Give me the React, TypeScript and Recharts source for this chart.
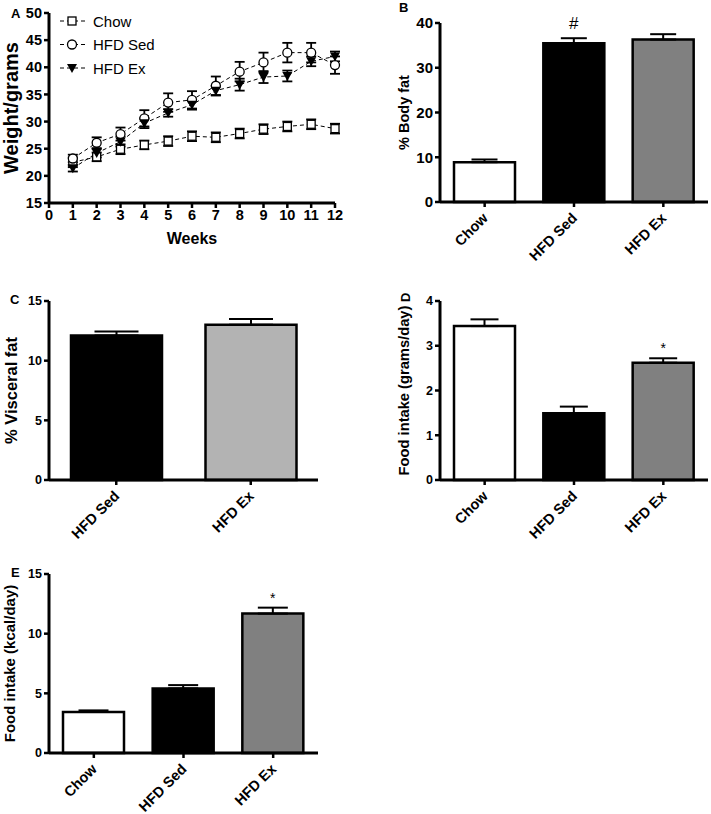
import React from "react";
import {
  LineChart,
  Line,
  BarChart,
  Bar,
  Cell,
  XAxis,
  YAxis,
  ErrorBar,
  Legend,
  LabelList,
} from "recharts";

// Panel A: body weight by week
const weeks = [1, 2, 3, 4, 5, 6, 7, 8, 9, 10, 11, 12];
const weekTicks = [0, 1, 2, 3, 4, 5, 6, 7, 8, 9, 10, 11, 12];
const weightTicks = [15, 20, 25, 30, 35, 40, 45, 50];
const chowWeight = [22.5, 23.5, 24.9, 25.7, 26.4, 27.3, 27.1, 27.8, 28.6, 29.1, 29.5, 28.7];
const chowWeightErr = [0.9, 0.8, 0.9, 0.8, 0.9, 0.9, 0.9, 0.9, 0.9, 0.9, 0.9, 0.9];
const sedWeight = [23.2, 26.1, 27.7, 30.6, 33.5, 34.0, 36.6, 39.2, 40.9, 42.7, 42.7, 40.4];
const sedWeightErr = [0.7, 1.0, 1.2, 1.5, 1.7, 1.6, 1.7, 1.8, 1.8, 1.8, 1.8, 1.6];
const exWeight = [21.4, 24.2, 26.3, 29.7, 31.6, 33.1, 35.7, 36.8, 38.2, 38.4, 41.1, 42.0];
const exWeightErr = [0.6, 0.8, 0.9, 0.9, 0.7, 0.9, 0.9, 1.1, 1.1, 1.0, 0.9, 0.9];

const seriesKeys = ["chow", "sed", "ex"];
const seriesNames = ["Chow", "HFD Sed", "HFD Ex"];

// Bar panels
const groups = ["Chow", "HFD Sed", "HFD Ex"];
const hfdGroups = ["HFD Sed", "HFD Ex"];

const bodyFat = [8.9, 35.5, 36.3];
const bodyFatErr = [0.6, 1.1, 1.2];
const bodyFatMarks = ["", "#", ""];
const bodyFatTicks = [0, 10, 20, 30, 40];

const visceralFat = [12.1, 13.0];
const visceralFatErr = [0.35, 0.5];
const visceralMarks = ["", ""];
const visceralTicks = [0, 5, 10, 15];

const foodGrams = [3.44, 1.49, 2.62];
const foodGramsErr = [0.15, 0.15, 0.1];
const foodGramsMarks = ["", "", "*"];
const foodGramsTicks = [0, 1, 2, 3, 4];

const foodKcal = [3.44, 5.41, 11.68];
const foodKcalErr = [0.13, 0.28, 0.5];
const foodKcalMarks = ["", "", "*"];
const foodKcalTicks = [0, 5, 10, 15];

const FILLS3 = ["#ffffff", "#000000", "#808080"];
const FILLS2 = ["#000000", "#b3b3b3"];

const weightTable = weeks.map((w, i) => ({
  week: w,
  chow: chowWeight[i],
  chowErr: chowWeightErr[i],
  sed: sedWeight[i],
  sedErr: sedWeightErr[i],
  ex: exWeight[i],
  exErr: exWeightErr[i],
}));

const makeTable = (cats: string[], vals: number[], errs: number[], marks: string[]) =>
  cats.map((c, i) => ({ name: c, value: vals[i], err: [0, errs[i]], mark: marks[i] }));

const FONT = "'Liberation Sans', Arial, sans-serif";

function Marker({ kind, cx, cy }: { kind: string; cx: number; cy: number }) {
  if (kind === "square")
    return <rect x={cx - 4} y={cy - 4} width={8} height={8} fill="#fff" stroke="#000" strokeWidth={1.3} />;
  if (kind === "circle")
    return <circle cx={cx} cy={cy} r={4.5} fill="#fff" stroke="#000" strokeWidth={1.3} />;
  return <path d={`M${cx - 5},${cy - 4}L${cx + 5},${cy - 4}L${cx},${cy + 5}Z`} fill="#000" />;
}

const markerOf: Record<string, string> = { chow: "square", sed: "circle", ex: "triangle" };

function WeightLegend(props: any) {
  const items = [...(props.payload || [])].sort(
    (a: any, b: any) => seriesKeys.indexOf(a.dataKey) - seriesKeys.indexOf(b.dataKey)
  );
  return (
    <svg width={130} height={72}>
      {items.map((it: any, i: number) => {
        const cy = 13 + i * 23.5;
        return (
          <g key={it.value}>
            <line x1={2} x2={28} y1={cy} y2={cy} stroke="#000" strokeWidth={1} strokeDasharray="4 3" />
            <Marker kind={markerOf[it.dataKey]} cx={14} cy={cy} />
            <text x={35} y={cy + 5.5} fontSize={15} fill="#000">
              {it.value}
            </text>
          </g>
        );
      })}
    </svg>
  );
}

function SlantTick(props: any) {
  const { x, y, payload } = props;
  const tx = x + 4;
  const ty = y + 10;
  return (
    <text
      x={tx}
      y={ty}
      textAnchor="end"
      transform={`rotate(-45 ${tx} ${ty})`}
      fontSize={14.5}
      fontWeight="bold"
      fill="#000"
    >
      {payload.value}
    </text>
  );
}

const axisLine = { stroke: "#000", strokeWidth: 3 };
const tickLine = { stroke: "#000", strokeWidth: 2.5 };

function WeightPanel() {
  return (
    <LineChart width={360} height={260} data={weightTable} margin={{ top: 13, right: 25, bottom: 0, left: 0 }}>
      <XAxis
        dataKey="week"
        type="number"
        domain={[0, 12]}
        ticks={weekTicks}
        interval={0}
        axisLine={axisLine}
        tickLine={tickLine}
        tickSize={5}
        height={57}
        tick={{ fill: "#000", fontSize: 14.5, fontWeight: "bold" }}
        label={{ value: "Weeks", position: "insideBottom", offset: 16, style: { fill: "#000", fontSize: 16, fontWeight: "bold" } }}
      />
      <YAxis
        type="number"
        domain={[15, 50]}
        ticks={weightTicks}
        interval={0}
        width={49}
        axisLine={axisLine}
        tickLine={tickLine}
        tickSize={5}
        tick={{ fill: "#000", fontSize: 14.5, fontWeight: "bold" }}
        label={{
          value: "Weight/grams",
          angle: -90,
          position: "insideLeft",
          offset: 10.5,
          style: { textAnchor: "middle", fill: "#000", fontSize: 20, fontWeight: "bold" },
        }}
      />
      <Legend
        verticalAlign="middle"
        align="center"
        layout="horizontal"
        content={WeightLegend}
        wrapperStyle={{ left: 58, top: 8, width: 130, height: 72 }}
      />
      {seriesKeys.map((k, i) => (
        <Line
          key={k}
          dataKey={k}
          name={seriesNames[i]}
          stroke="#000"
          strokeWidth={1}
          strokeDasharray="4 3"
          isAnimationActive={false}
          dot={(p: any) => <Marker key={`${k}-${p.index}`} kind={markerOf[k]} cx={p.cx} cy={p.cy} />}
          activeDot={false}
        >
          <ErrorBar dataKey={`${k}Err`} width={5} strokeWidth={1.8} stroke="#000" direction="y" />
        </Line>
      ))}
    </LineChart>
  );
}

type BarPanelProps = {
  width: number;
  height: number;
  top: number;
  right: number;
  yWidth: number;
  xHeight: number;
  data: any[];
  fills: string[];
  barSize: number;
  capWidth: number;
  ticks: number[];
  tickFont: number;
  yLabel: string;
  yLabelX: number;
  yLabelFont: number;
  markOffset: number;
  markFont: number;
};

function BarPanel(p: BarPanelProps) {
  const max = p.ticks[p.ticks.length - 1];
  return (
    <BarChart width={p.width} height={p.height} data={p.data} margin={{ top: p.top, right: p.right, bottom: 0, left: 0 }}>
      <XAxis
        dataKey="name"
        interval={0}
        axisLine={axisLine}
        tickLine={tickLine}
        tickSize={5}
        height={p.xHeight}
        tick={<SlantTick />}
      />
      <YAxis
        type="number"
        domain={[0, max]}
        ticks={p.ticks}
        interval={0}
        width={p.yWidth}
        axisLine={axisLine}
        tickLine={tickLine}
        tickSize={5}
        tick={{ fill: "#000", fontSize: p.tickFont, fontWeight: "bold" }}
        label={{
          value: p.yLabel,
          angle: -90,
          position: "insideLeft",
          offset: p.yLabelX,
          style: { textAnchor: "middle", fill: "#000", fontSize: p.yLabelFont, fontWeight: "bold" },
        }}
      />
      <Bar dataKey="value" barSize={p.barSize} stroke="#000" strokeWidth={2.5} isAnimationActive={false}>
        {p.data.map((d, i) => (
          <Cell key={d.name} fill={p.fills[i]} />
        ))}
        <ErrorBar dataKey="err" width={p.capWidth} strokeWidth={2} stroke="#000" direction="y" />
        <LabelList dataKey="mark" position="top" offset={p.markOffset} style={{ fill: "#000", fontSize: p.markFont }} />
      </Bar>
    </BarChart>
  );
}

const abs = (left: number, top: number): React.CSSProperties => ({ position: "absolute", left, top });

export default function App() {
  return (
    <div style={{ position: "absolute", left: 0, top: 0, width: 711, height: 814, background: "#fff", fontFamily: FONT }}>
      <div style={abs(0, 0)}>
        <WeightPanel />
      </div>
      <div style={abs(360, 0)}>
        <BarPanel
          width={351} height={285} top={23} right={3} yWidth={80} xHeight={83}
          data={makeTable(groups, bodyFat, bodyFatErr, bodyFatMarks)}
          fills={FILLS3} barSize={61} capWidth={13} ticks={bodyFatTicks} tickFont={15}
          yLabel="% Body fat" yLabelX={44} yLabelFont={14.5} markOffset={14} markFont={17}
        />
      </div>
      <div style={abs(0, 285)}>
        <BarPanel
          width={360} height={270} top={16} right={42} yWidth={49} xHeight={75}
          data={makeTable(hfdGroups, visceralFat, visceralFatErr, visceralMarks)}
          fills={FILLS2} barSize={91} capWidth={22} ticks={visceralTicks} tickFont={12.5}
          yLabel="% Visceral fat" yLabelX={11} yLabelFont={16.5} markOffset={10} markFont={14}
        />
      </div>
      <div style={abs(360, 285)}>
        <BarPanel
          width={351} height={270} top={16} right={3} yWidth={80} xHeight={75}
          data={makeTable(groups, foodGrams, foodGramsErr, foodGramsMarks)}
          fills={FILLS3} barSize={61} capWidth={14} ticks={foodGramsTicks} tickFont={12.5}
          yLabel="Food intake (grams/day)" yLabelX={43.5} yLabelFont={14.7} markOffset={10} markFont={14}
        />
      </div>
      <div style={abs(0, 560)}>
        <BarPanel
          width={360} height={254} top={14} right={42} yWidth={49} xHeight={61}
          data={makeTable(groups, foodKcal, foodKcalErr, foodKcalMarks)}
          fills={FILLS3} barSize={61} capWidth={15} ticks={foodKcalTicks} tickFont={12.5}
          yLabel="Food intake (kcal/day)" yLabelX={10} yLabelFont={15} markOffset={11} markFont={14}
        />
      </div>
      <svg width={711} height={814} style={{ position: "absolute", left: 0, top: 0, pointerEvents: "none" }}>
        <g fill="#000" fontWeight="bold" fontSize={13}>
          <text x={11} y={18}>A</text>
          <text x={399} y={12}>B</text>
          <text x={10} y={304}>C</text>
          <text transform="translate(410,302) rotate(-90)">D</text>
          <text x={11} y={577}>E</text>
        </g>
      </svg>
    </div>
  );
}
